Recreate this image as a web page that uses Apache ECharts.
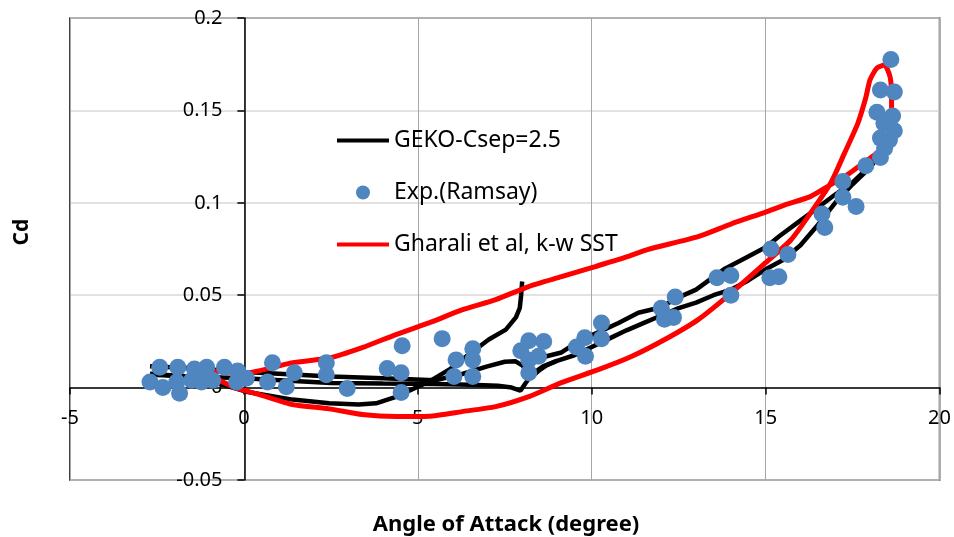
<!DOCTYPE html>
<html>
<head>
<meta charset="utf-8">
<script src="https://cdn.jsdelivr.net/npm/echarts@6/dist/echarts.min.js"></script>
<style>
  html, body { margin: 0; padding: 0; background: #fff; }
  #chart { width: 954px; height: 537px; }
</style>
</head>
<body>
<div id="chart"></div>
<script>
// axis ranges (degree / Cd)
const xRange = [-5, 20, 5];
const yRange = [-0.05, 0.2, 0.05];

// GEKO, upstroke with the hump near 7.5 deg
const gekoUpA = [
  [-2.7, 0.0115], [-1.5, 0.0105], [0, 0.0085], [1, 0.0075], [2.5, 0.006], [4, 0.005],
  [5.5, 0.004], [6.3, 0.0075], [7, 0.0115], [7.5, 0.014], [7.8, 0.0143], [8.0, 0.012],
  [8.2, 0.0085], [8.35, 0.007], [8.5, 0.0095], [8.7, 0.012], [9, 0.0145], [9.5, 0.0175],
  [10, 0.022], [10.5, 0.0265], [11, 0.031], [11.5, 0.035], [12, 0.039], [12.5, 0.043],
  [13, 0.046], [13.5, 0.05], [14, 0.053], [14.5, 0.058], [15, 0.064], [15.5, 0.069],
  [16, 0.077], [16.5, 0.088], [17, 0.1], [17.5, 0.11], [18, 0.119], [18.4, 0.129], [18.7, 0.14]
];
// GEKO, second upstroke (flat, with the dip at 8 deg)
const gekoUpB = [
  [-2.7, 0.007], [-1.5, 0.006], [0, 0.005], [2.5, 0.0025], [4, 0.0022], [5.5, 0.002],
  [6.5, 0.0015], [7.3, 0.001], [7.7, 0.0], [7.95, -0.0017], [8.1, 0.0025], [8.3, 0.0075],
  [8.6, 0.0115], [9, 0.0145]
];
// GEKO, downstroke along the upper band
const gekoDownC = [
  [18.7, 0.14], [18.4, 0.13], [18, 0.12], [17.5, 0.111], [17, 0.1045], [16.4, 0.096],
  [15.9, 0.089], [15.4, 0.082], [15, 0.076], [14.5, 0.071], [13.8, 0.064], [13, 0.053],
  [12.4, 0.048], [12, 0.0435], [11.34, 0.0405], [10.77, 0.035], [10.2, 0.03], [9.7, 0.026],
  [9.13, 0.019], [8.67, 0.0168], [8.45, 0.0155]
];
// GEKO, branch ending at 8 deg (lower dip below zero)
const gekoDownD = [
  [8.0, 0.0574], [7.97, 0.05], [7.93, 0.043], [7.82, 0.038], [7.53, 0.0314], [7.04, 0.026],
  [6.47, 0.018], [5.9, 0.0097], [5.32, 0.0032], [5.0, 0.0005], [4.37, -0.005], [3.8, -0.0085],
  [3.3, -0.0092], [2.45, -0.0085], [1.4, -0.0065], [0.07, -0.0022], [-0.6, 0.0015],
  [-1.2, 0.0045], [-2.0, 0.0065], [-2.7, 0.0075]
];

// Gharali et al, k-w SST (closed loop)
const gharaliLoop = [
  [-1.5, 0.0098], [-0.8, 0.0088], [0.07, 0.008], [1.4, 0.0135], [2.45, 0.016], [3.4, 0.0216],
  [4.37, 0.0287], [5.32, 0.035], [6.27, 0.042], [7.24, 0.0476], [8.19, 0.0547], [9.13, 0.06],
  [10.1, 0.0655], [11.05, 0.071], [11.6, 0.0747], [13.06, 0.0817], [14, 0.0885], [15, 0.095],
  [15.5, 0.0985], [16.3, 0.1035], [16.8, 0.109], [17.3, 0.1145], [17.7, 0.12], [18.2, 0.127],
  [18.5, 0.134], [18.62, 0.143], [18.62, 0.156], [18.58, 0.168], [18.42, 0.1745], [18.2, 0.173],
  [18.0, 0.1665], [17.88, 0.157], [17.65, 0.143], [17.27, 0.127], [16.88, 0.111], [16.3, 0.0947],
  [15.73, 0.08], [15.0, 0.0676], [14.0, 0.051], [13.06, 0.0368], [12.1, 0.026], [11.14, 0.0168],
  [10.19, 0.0097], [9.13, 0.0027], [8.19, -0.0049], [7.24, -0.0103], [6.27, -0.013],
  [5.32, -0.0155], [4.37, -0.0157], [3.4, -0.0146], [2.45, -0.0115], [1.4, -0.0092],
  [0.45, -0.0038], [-0.33, 0.0005], [-1.19, 0.0087], [-1.5, 0.0098]
];

// Exp. (Ramsay)
const ramsayExp = [
  [-2.7, 0.003], [-2.42, 0.011], [-2.33, 0.0], [-1.9, 0.011], [-1.85, -0.003], [-1.93, 0.003],
  [-1.5, 0.004], [-1.42, 0.01], [-1.22, 0.003], [-1.07, 0.011], [-0.9, 0.004], [-0.56, 0.011],
  [-0.18, 0.009], [-0.21, 0.003], [0.07, 0.005], [0.82, 0.0135], [0.68, 0.003], [1.22, 0.0005],
  [1.45, 0.008], [2.37, 0.0135], [2.37, 0.007], [2.97, -0.0005], [4.12, 0.0103], [4.52, 0.008],
  [4.55, 0.0227], [4.52, -0.0027], [5.7, 0.0265], [6.1, 0.015], [6.04, 0.006], [6.58, 0.021],
  [6.58, 0.015], [6.58, 0.006], [7.96, 0.02], [8.19, 0.0254], [8.62, 0.025], [8.19, 0.015],
  [8.47, 0.017], [8.19, 0.008], [9.56, 0.022], [9.8, 0.027], [9.82, 0.017], [10.28, 0.035],
  [10.28, 0.0265], [12.0, 0.043], [12.09, 0.037], [12.35, 0.038], [12.4, 0.049], [13.6, 0.0595],
  [14.0, 0.0606], [14.0, 0.05], [15.15, 0.075], [15.64, 0.072], [15.12, 0.0595], [15.38, 0.06],
  [16.62, 0.094], [16.7, 0.0866], [17.22, 0.1115], [17.22, 0.103], [17.6, 0.098], [17.88, 0.12],
  [18.3, 0.1245], [18.42, 0.1295], [18.56, 0.134], [18.3, 0.135], [18.7, 0.139], [18.4, 0.143],
  [18.65, 0.147], [18.2, 0.149], [18.7, 0.16], [18.3, 0.161], [18.6, 0.1775]
];

const names = ['GEKO-Csep=2.5', 'Exp.(Ramsay)', 'Gharali et al, k-w SST'];
const font = 'Noto Sans';

// plot box in px, used to put the axes on x=0 / y=0 (Excel style crossing)
const gridBox = { left: 70, top: 18, right: 12, bottom: 57 };
const plotW = 954 - gridBox.left - gridBox.right;
const plotH = 537 - gridBox.top - gridBox.bottom;
const yAxisShift = (0 - xRange[0]) / (xRange[1] - xRange[0]) * plotW;
const xAxisShift = (0 - yRange[0]) / (yRange[1] - yRange[0]) * plotH;

const lineIcon = 'path://M0,0H52V4H0Z';

const gekoSeries = (data) => ({
  name: names[0],
  type: 'line',
  data: data,
  symbol: 'none',
  z: 2,
  lineStyle: { color: '#000', width: 4.5 },
  itemStyle: { color: '#000' }
});

const myChart = echarts.init(document.getElementById('chart'));
myChart.setOption({
  animation: false,
  backgroundColor: '#fff',
  grid: {
    left: gridBox.left, top: gridBox.top, right: gridBox.right, bottom: gridBox.bottom,
    show: true, borderColor: '#000', borderWidth: 1.5, backgroundColor: 'transparent'
  },
  legend: {
    data: [
      { name: names[0], icon: lineIcon },
      { name: names[1], icon: 'circle' },
      { name: names[2], icon: lineIcon }
    ],
    orient: 'vertical',
    left: 332,
    top: 124,
    itemWidth: 52,
    itemHeight: 14,
    itemGap: 29,
    textStyle: { fontFamily: font, fontSize: 23, color: '#000', lineHeight: 22 }
  },
  xAxis: {
    type: 'value',
    min: xRange[0], max: xRange[1], interval: xRange[2],
    offset: -xAxisShift,
    axisLine: { onZero: false, lineStyle: { color: '#000', width: 1.5 } },
    axisTick: { show: true, length: 7, lineStyle: { color: '#000', width: 1.5 } },
    axisLabel: { margin: 21, fontFamily: font, fontSize: 20, color: '#000', showMinLabel: true, showMaxLabel: true },
    splitLine: { show: true, lineStyle: { color: '#a6a6a6', width: 1 } }
  },
  yAxis: {
    type: 'value',
    min: yRange[0], max: yRange[1], interval: yRange[2],
    offset: -yAxisShift,
    axisLine: { onZero: false, lineStyle: { color: '#000', width: 1.5 } },
    axisTick: { show: true, length: 7, lineStyle: { color: '#000', width: 1.5 } },
    axisLabel: {
      margin: 22, fontFamily: font, fontSize: 20, color: '#000',
      showMinLabel: true, showMaxLabel: true,
      formatter: (v) => String(Math.round(v * 100) / 100)
    },
    splitLine: { show: true, lineStyle: { color: '#d9d9d9', width: 1.5 } }
  },
  graphic: [
    {
      type: 'text', x: 506, y: 525,
      style: { text: 'Angle of Attack (degree)', fontFamily: font, fontSize: 22, fontWeight: 'bold',
        fill: '#000', textAlign: 'center', textVerticalAlign: 'middle' }
    },
    {
      type: 'text', x: 22, y: 232, rotation: Math.PI / 2,
      style: { text: 'Cd', fontFamily: font, fontSize: 21, fontWeight: 'bold',
        fill: '#000', textAlign: 'center', textVerticalAlign: 'middle' }
    }
  ],
  series: [
    gekoSeries(gekoUpA),
    {
      name: names[1],
      type: 'scatter',
      data: ramsayExp,
      symbol: 'circle',
      symbolSize: 17,
      z: 4,
      itemStyle: { color: '#4F86C0', opacity: 1 }
    },
    {
      name: names[2],
      type: 'line',
      data: gharaliLoop,
      symbol: 'none',
      smooth: 0.2,
      z: 3,
      lineStyle: { color: '#ff0000', width: 5 },
      itemStyle: { color: '#ff0000' }
    },
    gekoSeries(gekoUpB),
    gekoSeries(gekoDownC),
    gekoSeries(gekoDownD)
  ]
});
</script>
</body>
</html>
